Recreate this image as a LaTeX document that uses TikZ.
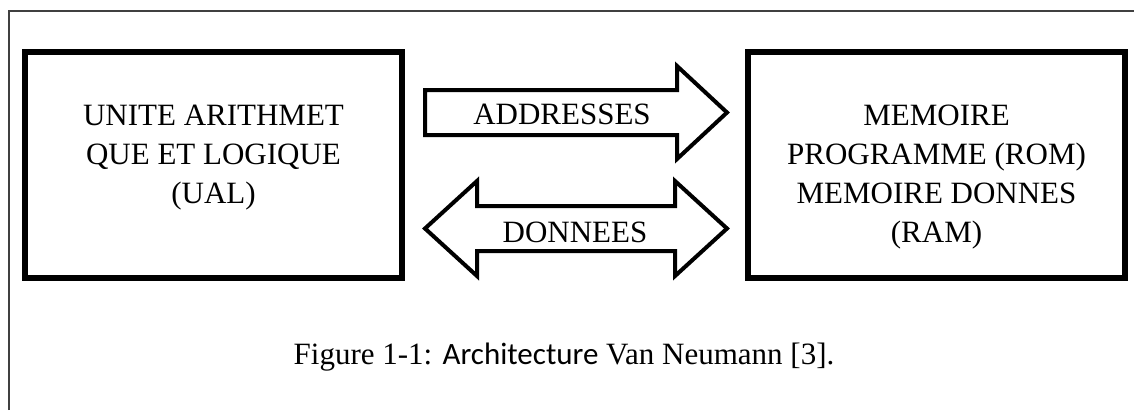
\documentclass[tikz,border=0pt]{standalone}
\usepackage{fontspec}
\setmainfont{Liberation Serif}
\newfontfamily\calibrifont{Carlito}
\begin{document}
\begin{tikzpicture}[x=1pt,y=-1pt,
  unitbox/.style={draw, line width=6pt, minimum width=377pt, minimum height=226pt, inner sep=0pt},
  busarrow/.style={draw, line width=4pt, line join=miter, miter limit=10},
  lbl/.style={anchor=base, inner sep=0pt, font=\fontsize{31}{37}\selectfont},
  frameline/.style={line width=1.2pt, black!75}]
\useasboundingbox (0,0) rectangle (1134,410);

% page frame
\coordinate (fbl) at (9,410);
\coordinate (ftl) at (9,11);
\coordinate (ftr) at (1134,11);
\draw[frameline] (fbl) -- (ftl) -- (ftr);

% the two units
\node[unitbox] (ual) at (213.5,165) {};
\node[unitbox] (mem) at (936.5,165) {};

% address bus (one way)
\draw[busarrow] (425,90) -- (677,90) -- (677,66) -- (727,112.5) -- (677,159)
  -- (677,135) -- (425,135) -- cycle;
% data bus (both ways)
\draw[busarrow] (425,228.5) -- (477,181) -- (477,206) -- (675,206) -- (675,181)
  -- (727,228.5) -- (675,276) -- (675,251) -- (477,251) -- (477,276) -- cycle;

% labels
\node[lbl] (ual1) at (213.5,125) {UNITE ARITHMET};
\node[lbl] (ual2) at (213.5,164) {QUE ET LOGIQUE};
\node[lbl] (ual3) at (213.5,203) {(UAL)};

\node[lbl] (mem1) at (936.5,125) {MEMOIRE};
\node[lbl] (mem2) at (936.5,164) {PROGRAMME (ROM)};
\node[lbl] (mem3) at (936.5,203) {MEMOIRE DONNES};
\node[lbl] (mem4) at (936.5,242) {(RAM)};

\node[lbl] (addr) at (562,124) {ADDRESSES};
\node[lbl] (data) at (575,242) {DONNEES};

% caption
\node[lbl] (cap) at (564,364) {Figure 1-1: {\calibrifont Architecture} Van Neumann [3].};
\end{tikzpicture}
\end{document}
